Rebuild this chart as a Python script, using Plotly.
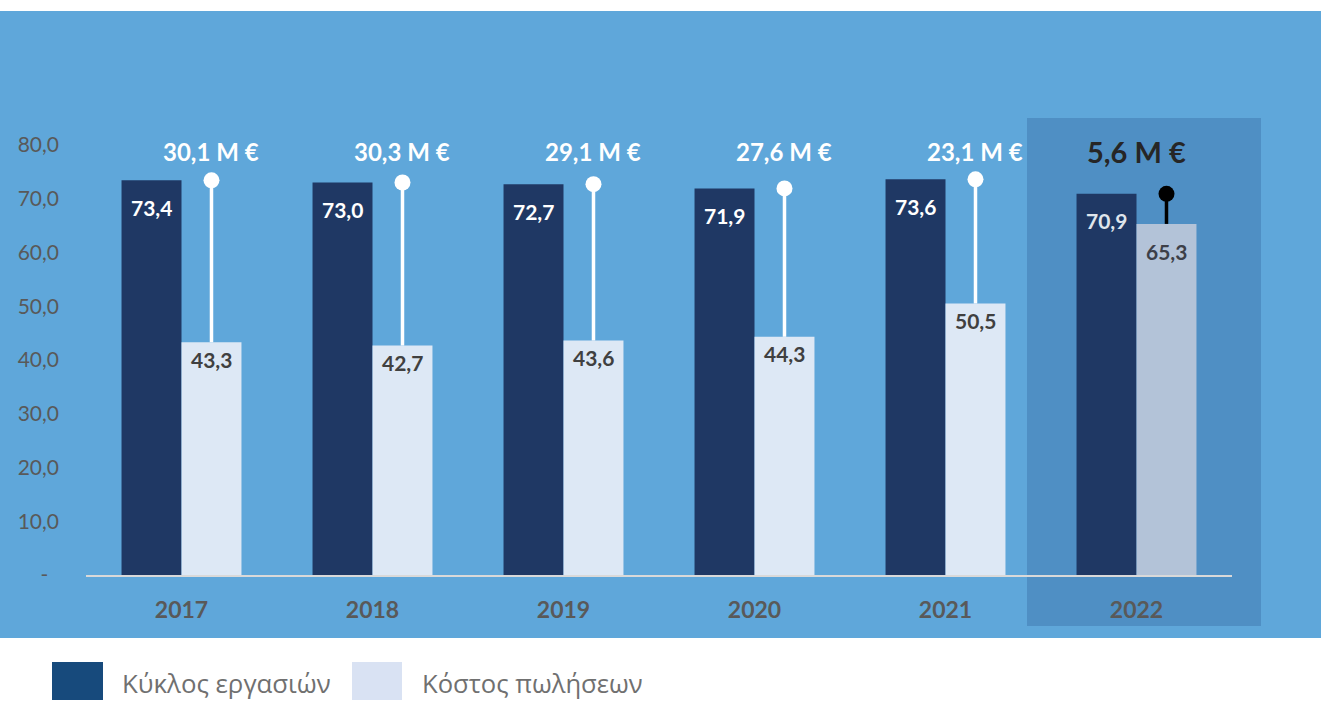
import plotly.graph_objects as go

years = ["2017", "2018", "2019", "2020", "2021", "2022"]
turnover = [73.4, 73.0, 72.7, 71.9, 73.6, 70.9]
cost = [43.3, 42.7, 43.6, 44.3, 50.5, 65.3]
margin_labels = ["30,1 M €", "30,3 M €", "29,1 M €", "27,6 M €", "23,1 M €", "5,6 M €"]
y_tickvals = [0, 10, 20, 30, 40, 50, 60, 70, 80]
y_ticktext = ["-\u00a0\u00a0", "10,0", "20,0", "30,0", "40,0", "50,0", "60,0", "70,0", "80,0"]

W, H = 1321, 701
L, R, T, B = 86, 89, 118, 126
PW, PH = W - L - R, H - T - B

def px(x):
    return (x - L) / PW

def py(y):
    return (H - B - y) / PH

FONT = "Lato"
BG = "#5fa7da"
HL = "#4f8fc4"
DARK = "#1f3864"
LIGHT = "#dde8f5"
LIGHT_HL = "#b3c3d8"

bw = 0.314
off = bw / 2
n = len(years)
xs = list(range(n))
last = n - 1

dark_colors = [DARK] * n
light_colors = [LIGHT_HL if i == last else LIGHT for i in xs]

fig = go.Figure()
fig.add_trace(go.Bar(x=xs, y=turnover, width=bw, offset=-bw, marker=dict(color=dark_colors, line=dict(width=0)),
                     name="Κύκλος εργασιών", showlegend=False, hoverinfo="skip"))
fig.add_trace(go.Bar(x=xs, y=cost, width=bw, offset=0, marker=dict(color=light_colors, line=dict(width=0)),
                     name="Κόστος πωλήσεων", showlegend=False, hoverinfo="skip"))

# lollipop lines (white for earlier years, black for the highlighted year)
lx, ly = [], []
for i in xs[:-1]:
    lx += [i + off, i + off, None]
    ly += [cost[i], turnover[i], None]
fig.add_trace(go.Scatter(x=lx, y=ly, mode="lines", line=dict(color="white", width=3.5),
                         showlegend=False, hoverinfo="skip"))
fig.add_trace(go.Scatter(x=[xs[-1] + off] * 2, y=[cost[-1], turnover[-1]], mode="lines",
                         line=dict(color="black", width=3.5), showlegend=False, hoverinfo="skip"))
fig.add_trace(go.Scatter(x=[i + off for i in xs], y=turnover, mode="markers",
                         marker=dict(size=16, color=["white"] * (n - 1) + ["black"]),
                         showlegend=False, hoverinfo="skip"))

annotations = []
label_y = 78.7
for i in xs:
    hl = i == last
    annotations.append(dict(x=i if hl else i + off, y=label_y, xref="x", yref="y",
                            text="<b>%s</b>" % margin_labels[i],
                            showarrow=False, font=dict(family=FONT, size=29 if hl else 24,
                                                       color="#262626" if hl else "white")))
    annotations.append(dict(x=i - off, y=turnover[i], xref="x", yref="y", yshift=-27,
                            text="<b>%s</b>" % ("%.1f" % turnover[i]).replace(".", ","),
                            showarrow=False, font=dict(family=FONT, size=21,
                                                       color="#dfe5ec" if hl else "white")))
    annotations.append(dict(x=i + off, y=cost[i], xref="x", yref="y", yshift=-28 if hl else -17,
                            text="<b>%s</b>" % ("%.1f" % cost[i]).replace(".", ","),
                            showarrow=False, font=dict(family=FONT, size=21,
                                                       color="#3d4048" if hl else "#404040")))

# legend (custom)
shapes = [
    dict(type="rect", xref="paper", yref="paper", x0=px(0), x1=px(W), y0=py(11), y1=py(638),
         fillcolor=BG, line=dict(width=0), layer="below"),
    dict(type="rect", xref="paper", yref="paper", x0=px(1027), x1=px(1261), y0=py(118), y1=py(626),
         fillcolor=HL, line=dict(width=0), layer="below"),
    dict(type="rect", xref="paper", yref="paper", x0=px(52), x1=px(103), y0=py(662), y1=py(700),
         fillcolor="#174a7c", line=dict(width=0)),
    dict(type="rect", xref="paper", yref="paper", x0=px(352), x1=px(402), y0=py(662), y1=py(700),
         fillcolor="#d9e2f3", line=dict(width=0)),
]
annotations.append(dict(x=px(120), y=py(683), xref="paper", yref="paper", xanchor="left", yanchor="middle",
                        text="Κύκλος εργασιών", showarrow=False,
                        font=dict(family="Open Sans", size=25.8, color="#707070")))
annotations.append(dict(x=px(420), y=py(683), xref="paper", yref="paper", xanchor="left", yanchor="middle",
                        text="Κόστος πωλήσεων", showarrow=False,
                        font=dict(family="Open Sans", size=25.6, color="#707070")))

fig.update_layout(
    width=W, height=H,
    margin=dict(l=L, r=R, t=T, b=B, pad=0),
    paper_bgcolor="white", plot_bgcolor="rgba(0,0,0,0)",
    barmode="overlay",
    shapes=shapes, annotations=annotations,
    showlegend=False,
    xaxis=dict(range=[-0.5, 5.5], tickmode="array", tickvals=xs,
               ticktext=["<b>%s</b>" % y for y in years],
               tickfont=dict(family=FONT, size=23, color="#595959"),
               showgrid=False, zeroline=False, showline=True, linecolor="#d9d9d9", linewidth=2,
               ticks="", ticklabelstandoff=13, fixedrange=True),
    yaxis=dict(range=[0, 85], tickmode="array", tickvals=y_tickvals, ticktext=y_ticktext,
               tickfont=dict(family=FONT, size=21, color="#595959"),
               showgrid=False, zeroline=False, showline=False, ticks="", ticklabelstandoff=26,
               fixedrange=True),
)

fig.write_html("out.html", config={"displayModeBar": False},
               post_script="document.body.style.margin='0px';document.body.style.overflow='hidden';")
